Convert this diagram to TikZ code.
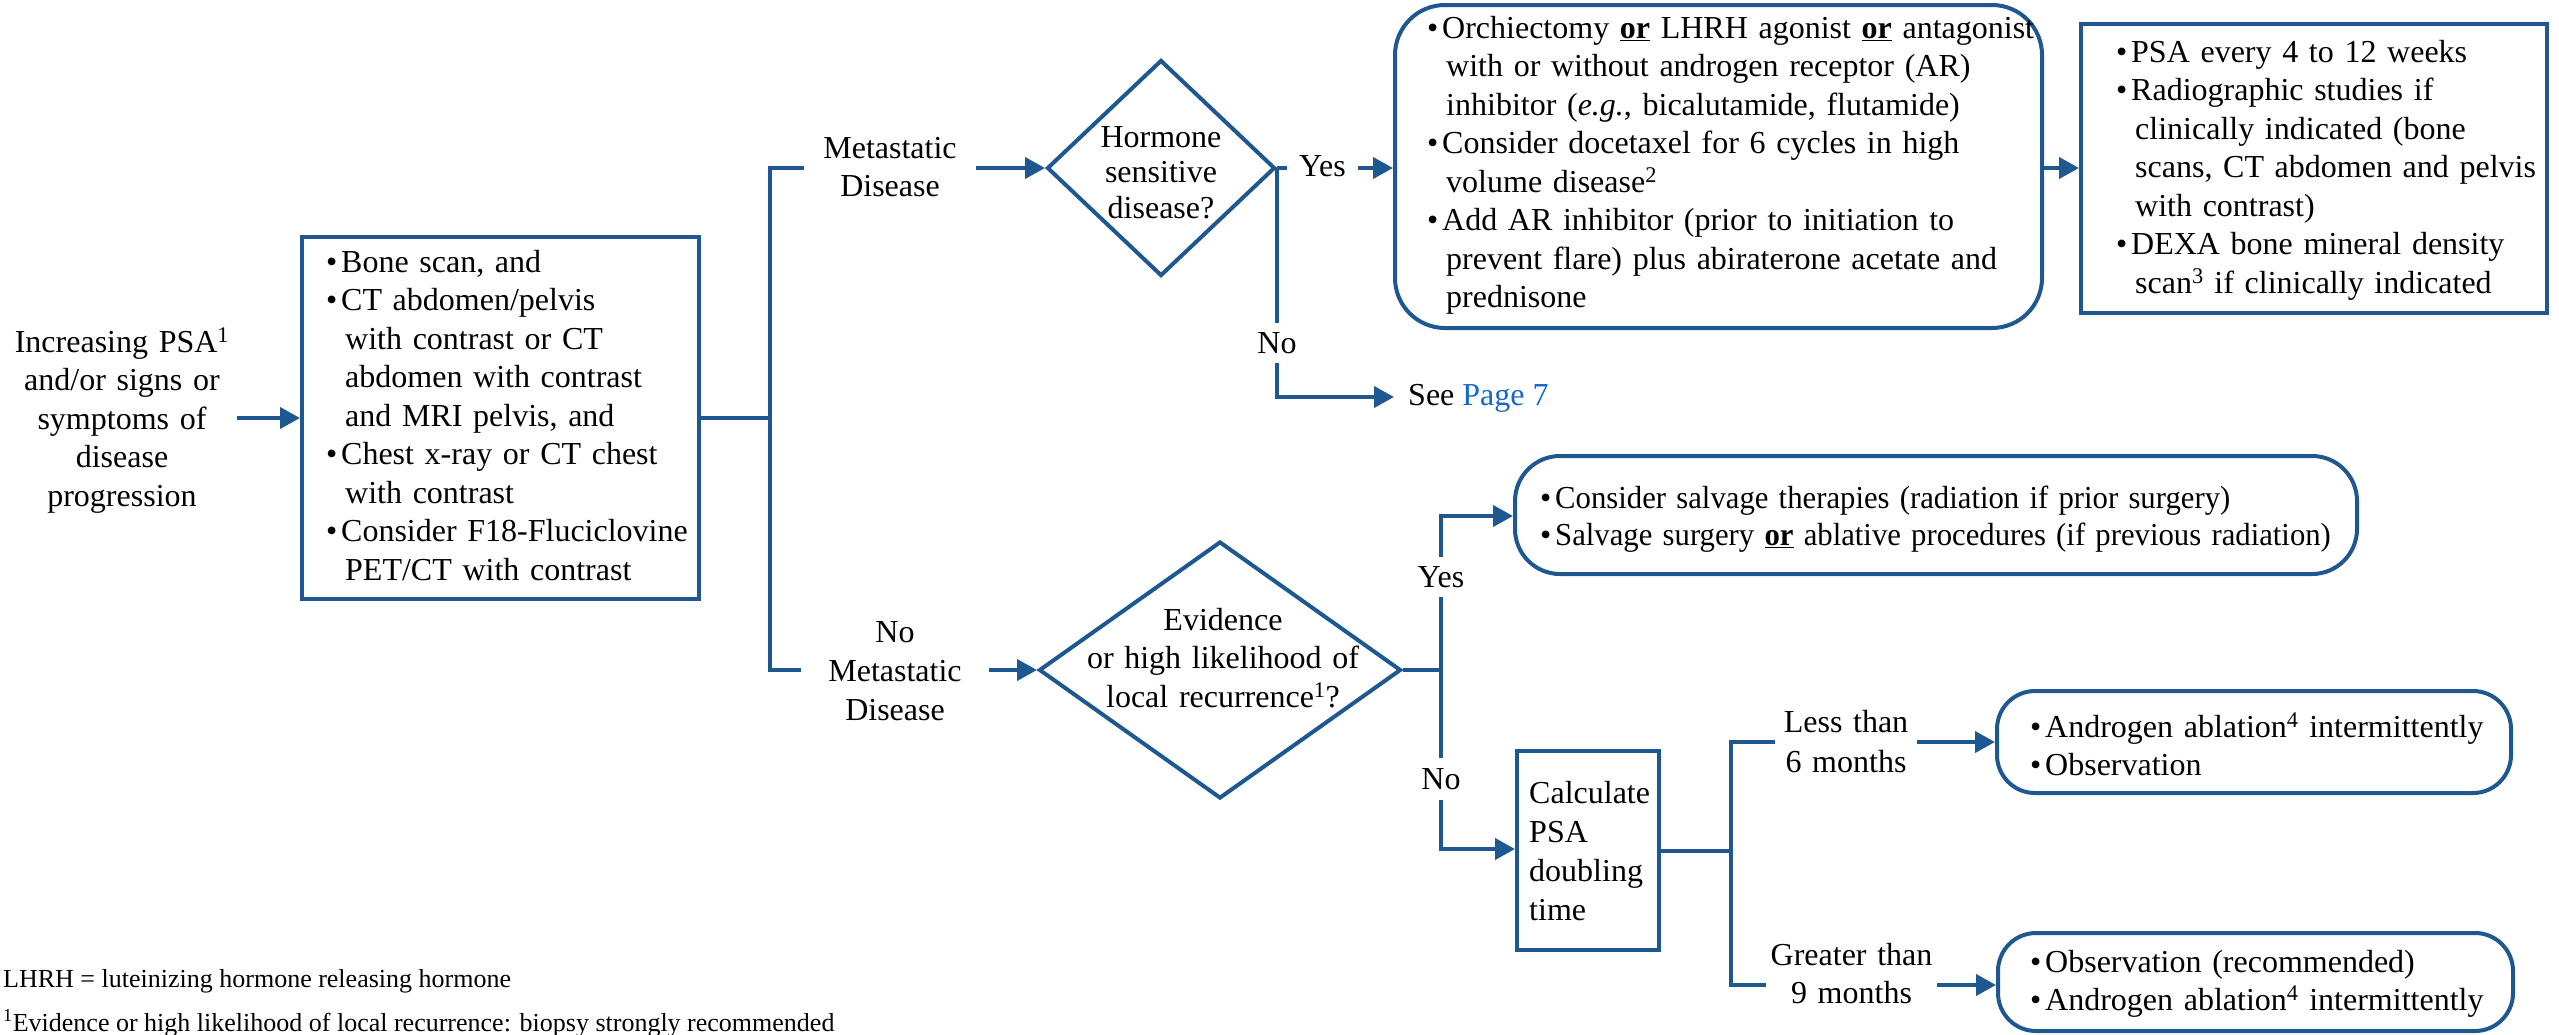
\documentclass[tikz,border=0pt]{standalone}
\usepackage{fontspec}
\usepackage{graphicx}
\setmainfont{Liberation Serif}
\usetikzlibrary{arrows.meta,shapes.geometric}
\definecolor{lb}{RGB}{31,88,145}
\definecolor{lk}{RGB}{21,105,200}
\newcommand{\bitem}{\makebox[15pt][l]{\textbullet}}
\newcommand{\cont}{\hspace*{19pt}}
\newcommand{\uor}{\underline{\textbf{or}}}
\newcommand{\narrow}[1]{\scalebox{0.96}[1]{#1}}
\begin{document}
\begin{tikzpicture}[x=1pt,y=-1pt,
  ln/.style={draw=lb,line width=4pt,line join=miter},
  arr/.style={ln,-{Triangle[length=20pt,width=21pt]}},
  bx/.style={draw=lb,line width=4pt,inner sep=0pt},
  rbx/.style={bx,rounded corners=#1},
  dia/.style={draw=lb,line width=4pt,diamond,inner sep=0pt},
  txt/.style={inner sep=0pt,anchor=base west,align=left,font=\fontsize{32}{38.5}\selectfont},
  lab/.style={inner sep=0pt,anchor=base,align=center,font=\fontsize{32}{38.5}\selectfont},
  tag/.style={inner sep=0pt,font=\fontsize{32}{38.5}\selectfont},
  fn/.style={inner sep=0pt,anchor=base west,align=left,font=\fontsize{26}{30}\selectfont}]
\useasboundingbox (0,0) rectangle (2559,1034);

% left text and first box
\node[lab,text width=230pt] (start) at (122,352) {Increasing PSA\textsuperscript{1}\\and/or signs or\\symptoms of\\disease\\progression};
\node[bx,minimum width=397pt,minimum height=362pt] (box1) at (500.5,418) {};
\node[txt,text width=380pt] (box1t) at (326,272) {\bitem Bone scan, and\\\bitem CT abdomen/pelvis\\\cont with contrast or CT\\\cont abdomen with contrast\\\cont and MRI pelvis, and\\\bitem Chest x-ray or CT chest\\\cont with contrast\\\bitem Consider F18-Fluciclovine\\\cont PET/CT with contrast};
\draw[arr] (start.east |- box1.west) -- (box1.west);

% trunk
\coordinate (tA) at (770,168);
\coordinate (tB) at (770,670);
\node[lab,text width=172pt] (ml) at (890,158) {Metastatic\\Disease};
\node[lab,text width=188pt,font=\fontsize{32}{39}\selectfont] (nml) at (895,642) {No\\Metastatic\\Disease};
\draw[ln] (box1.east) -- (box1.east -| tA);
\draw[ln] (ml.west |- tA) -- (tA) -- (tB) -- (nml.west |- tB);

% upper decision
\node[dia,minimum width=228pt,minimum height=216pt] (d1) at (1161,168) {};
\node[lab,text width=150pt,font=\fontsize{32}{35.5}\selectfont] (d1t) at (1161,147) {Hormone\\sensitive\\disease?};
\draw[arr] (ml.east |- tA) -- (d1.west);
\node[tag,minimum width=71pt] (yes1) at (1322.5,166) {Yes};
\node[rbx=50pt,minimum width=647pt,minimum height=323pt] (box2) at (1718.5,166.5) {};
\node[txt,text width=620pt] (box2t) at (1427,38) {\bitem Orchiectomy \uor{} LHRH agonist \uor{} antagonist\\\cont with or without androgen receptor (AR)\\\cont inhibitor (\textit{e.g.}, bicalutamide, flutamide)\\\bitem Consider docetaxel for 6 cycles in high\\\cont volume disease\textsuperscript{2}\\\bitem Add AR inhibitor (prior to initiation to\\\cont prevent flare) plus abiraterone acetate and\\\cont prednisone};
\draw[ln] (d1.east) -- (yes1.west |- d1.east);
\draw[arr] (yes1.east |- d1.east) -- (box2.west |- d1.east);
\node[bx,minimum width=466pt,minimum height=289pt] (box3) at (2314,168.5) {};
\node[txt,text width=420pt] (box3t) at (2116,62) {\bitem PSA every 4 to 12 weeks\\\bitem Radiographic studies if\\\cont clinically indicated (bone\\\cont scans, CT abdomen and pelvis\\\cont with contrast)\\\bitem DEXA bone mineral density\\\cont scan\textsuperscript{3} if clinically indicated};
\draw[arr] (box2.east |- d1.east) -- (box3.west |- d1.east);

% No -> See Page 7
\node[tag,minimum height=39pt] (no1) at (d1.east |- 0,343) {No};
\coordinate (seeend) at (1394,397);
\node[txt] (see) at (1408,405) {See \textcolor{lk}{Page 7}};
\draw[ln] (d1.east) -- (no1.north);
\draw[arr] (no1.south) -- (no1.south |- seeend) -- (seeend);

% lower decision
\node[dia,minimum width=362pt,minimum height=257pt] (d2) at (1220,670) {};
\node[lab,text width=300pt] (d2t) at (1223,630) {Evidence\\or high likelihood of\\local recurrence\textsuperscript{1}?};
\draw[arr] (nml.east |- tB) -- (d2.west);
\coordinate (tC) at (1441,670);
\coordinate (cY) at (1441,516);
\coordinate (cN) at (1441,849);
\node[tag,minimum height=40pt] (yes2) at (1441,577) {Yes};
\node[tag,minimum height=41pt] (no2) at (1441,779) {No};
\draw[ln] (d2.east) -- (tC);
\draw[ln] (yes2.south) -- (no2.north);
\node[rbx=45pt,minimum width=842pt,minimum height=118pt] (box4) at (1936,515) {};
\node[txt,text width=900pt,font=\fontsize{32}{37}\selectfont] (box4t) at (1540,508) {\bitem\narrow{Consider salvage therapies (radiation if prior surgery)}\\\bitem\narrow{Salvage surgery \uor{} ablative procedures (if previous radiation)}};
\draw[arr] (yes2.north) -- (cY) -- (cY -| box4.west);
\node[bx,minimum width=142pt,minimum height=199pt] (calc) at (1588,850.5) {};
\node[txt,text width=130pt,font=\fontsize{32}{39}\selectfont] (calct) at (1529,803) {Calculate\\PSA\\doubling\\time};
\draw[arr] (no2.south) -- (cN) -- (cN -| calc.west);

% doubling time branches
\coordinate (tD) at (1731,850);
\coordinate (tE) at (1731,742);
\coordinate (tF) at (1731,985);
\draw[ln] (calc.east) -- (calc.east -| tD);
\node[lab,text width=142pt,font=\fontsize{32}{40}\selectfont] (less) at (1846,732) {Less than\\6 months};
\node[lab,text width=171pt] (greater) at (1851.5,965) {Greater than\\9 months};
\draw[ln] (less.west |- tE) -- (tE) -- (tF) -- (greater.west |- tF);
\node[rbx=38pt,minimum width=514pt,minimum height=102pt] (box5) at (2254,742) {};
\node[txt,text width=480pt,font=\fontsize{32}{38}\selectfont] (box5t) at (2030,737) {\bitem Androgen ablation\textsuperscript{4} intermittently\\\bitem Observation};
\node[rbx=38pt,minimum width=515pt,minimum height=98pt] (box6) at (2255.5,982) {};
\node[txt,text width=480pt,font=\fontsize{32}{38}\selectfont] (box6t) at (2030,972) {\bitem Observation (recommended)\\\bitem Androgen ablation\textsuperscript{4} intermittently};
\draw[arr] (less.east |- tE) -- (box5.west |- tE);
\draw[arr] (greater.east |- tF) -- (box6.west |- tF);

% footnotes
\node[fn] (fn1) at (3,987) {LHRH = luteinizing hormone releasing hormone};
\node[fn] (fn2) at (3,1031) {\textsuperscript{1}Evidence or high likelihood of local recurrence: biopsy strongly recommended};
\end{tikzpicture}
\end{document}
